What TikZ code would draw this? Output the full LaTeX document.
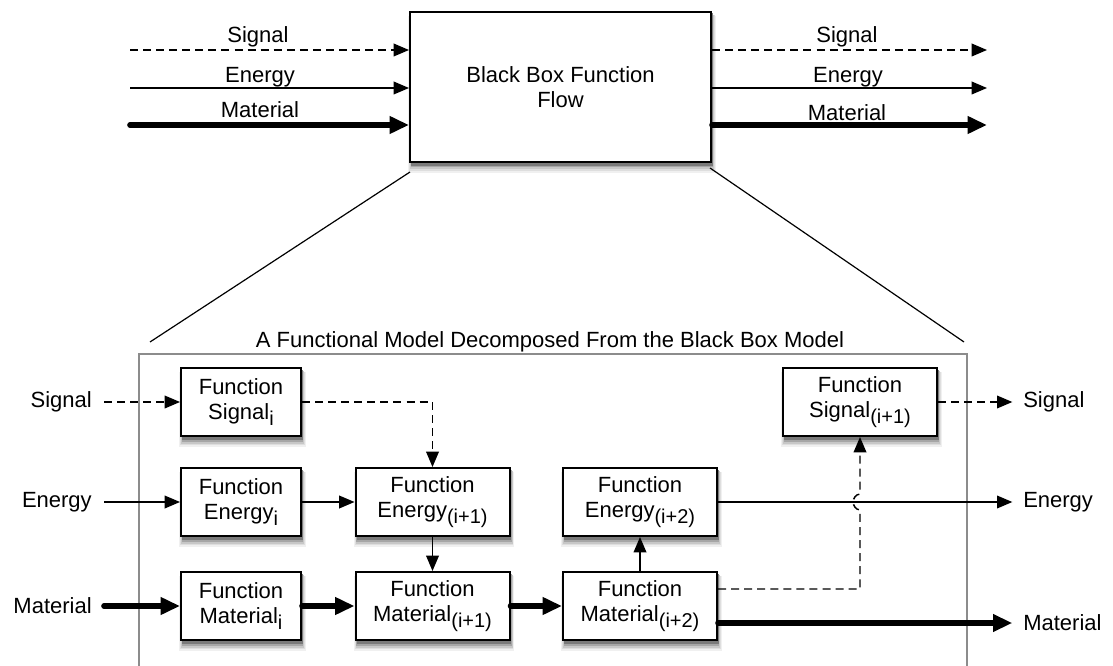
\documentclass[tikz,border=0pt]{standalone}
\usepackage{fontspec}
\setmainfont{Liberation Sans}
\usetikzlibrary{arrows.meta,calc}

% lowered, slightly smaller index after a flow name
\newcommand{\fsub}[1]{\raisebox{-5pt}{\fontsize{15}{15}\selectfont #1}}
% soft drop shadow of the box with edges x1,y1,x2,y2 (picture units), stacked grey rectangles
\newcommand{\shadowbox}[4]{%
  \fill[black!6]  (#1-2,#4+11)   rectangle (#3+4.5,#2+4);
  \fill[black!13] (#1-1,#4+9)    rectangle (#3+3.6,#2+3.5);
  \fill[black!22] (#1,#4+7.5)    rectangle (#3+3,#2+3);
  \fill[black!35] (#1+0.5,#4+5.5) rectangle (#3+2.4,#2+2);
  \fill[black!52] (#1+1,#4+4)    rectangle (#3+1.9,#2+1.5);}

\begin{document}
\begin{tikzpicture}[x=0.75pt,y=-0.75pt,
  every node/.style={font=\fontsize{16.5}{18.75}\selectfont},
  fbox/.style={draw, line width=1.5pt, fill=white, align=center, inner sep=0pt,
    minimum height=51pt},
  narrowbox/.style={fbox, minimum width=90pt},
  widebox/.style={fbox, minimum width=115.5pt},
  thinarr/.style={line width=1.1pt, -{Triangle[length=11.5pt,width=9.5pt]}},
  sigarr/.style={thinarr, dash pattern=on 6pt off 3.8pt},
  thickarr/.style={line width=4.2pt, line cap=round, -{Triangle[length=14.5pt,width=12.5pt]}},
  frameline/.style={draw=black!45, line width=1.1pt},
  zoomline/.style={line width=0.9pt},
]
\useasboundingbox (0,0) rectangle (1113,666);

% ---------- shadows, drawn first so the boxes sit on them ----------
\shadowbox{410}{12}{711}{162}
\shadowbox{181}{368}{301}{436}
\shadowbox{181}{468}{301}{536}
\shadowbox{181}{572}{301}{640}
\shadowbox{355.5}{468}{509.5}{536}
\shadowbox{355.5}{572}{509.5}{640}
\shadowbox{563}{468}{717}{536}
\shadowbox{563}{572}{717}{640}
\shadowbox{783}{368}{937}{436}

% ---------- black box ----------
\node[fbox, minimum width=225.75pt, minimum height=112.5pt] (bb) at (560.5,87) {Black Box Function\\Flow};

\coordinate (ls) at (130,50);
\coordinate (le) at (130,88);
\coordinate (lm) at (130,125);
\coordinate (rs) at (987,50);
\coordinate (re) at (987,88);
\coordinate (rm) at (987,125);

\draw[sigarr] (ls) -- (ls -| bb.west);
\draw[thinarr] (le) -- (le -| bb.west);
\draw[thickarr] (lm) -- (lm -| bb.west);
\draw[sigarr] (rs -| bb.east) -- (rs);
\draw[thinarr] (re -| bb.east) -- (re);
\draw[thickarr] (rm -| bb.east) -- (rm);

\node[anchor=base] (tls) at (258,43) {Signal};
\node[anchor=base] (tle) at (260,83) {Energy};
\node[anchor=base] (tlm) at (260,118) {Material};
\node[anchor=base] (trs) at (847,43) {Signal};
\node[anchor=base] (tre) at (848,83) {Energy};
\node[anchor=base] (trm) at (847,121) {Material};

% ---------- zoom lines ----------
\coordinate (zl0) at (410,172);
\coordinate (zl1) at (150,342);
\coordinate (zr0) at (710,168);
\coordinate (zr1) at (964,342);
\draw[zoomline] (zl0) -- (zl1);
\draw[zoomline] (zr0) -- (zr1);

\node[anchor=base] (title) at (550,348) {A Functional Model Decomposed From the Black Box Model};
\draw[frameline] (139,666) -- (139,354) -- (967,354) -- (967,666);

% ---------- functional model ----------
\node[narrowbox] (si)  at (241,402)   {Function\\Signal\fsub{i}};
\node[narrowbox] (ei)  at (241,502)   {Function\\Energy\fsub{i}};
\node[narrowbox] (mi)  at (241,606)   {Function\\Material\fsub{i}};
\node[widebox]   (ei1) at (432.5,502) {Function\\Energy\fsub{(i+1)}};
\node[widebox]   (mi1) at (432.5,606) {Function\\Material\fsub{(i+1)}};
\node[widebox]   (ei2) at (640,502)   {Function\\Energy\fsub{(i+2)}};
\node[widebox]   (mi2) at (640,606)   {Function\\Material\fsub{(i+2)}};
\node[widebox]   (si1) at (860,402)   {Function\\Signal\fsub{(i+1)}};

\node[anchor=east, inner sep=0pt] (ins) at (92,402) {Signal};
\node[anchor=east, inner sep=0pt] (ine) at (92,502) {Energy};
\node[anchor=east, inner sep=0pt] (inm) at (92,606) {Material};
\node[anchor=west, inner sep=0pt] (outs) at (1023,402) {Signal};
\node[anchor=west, inner sep=0pt] (oute) at (1023,502) {Energy};
\node[anchor=west, inner sep=0pt] (outm) at (1023,623) {Material};

\draw[sigarr, shorten <=9pt] (ins) -- (si);
\draw[thinarr, shorten <=9pt] (ine) -- (ei);
\draw[thickarr, shorten <=9pt] (inm) -- (mi);

\draw[sigarr] (si.east) -| (ei1.north);
\draw[thinarr] (ei) -- (ei1);
\draw[thinarr] (ei1) -- (mi1);
\draw[thickarr] (mi) -- (mi1);
\draw[thickarr] (mi1) -- (mi2);
\draw[thinarr] (mi2) -- (ei2);

\draw[thinarr, shorten >=8pt] (ei2) -- (oute);
\draw[sigarr, shorten >=8pt] (si1) -- (outs);
\draw[thickarr, shorten >=8pt] ($(mi2.east)+(0,17)$) -- (outm);

% dashed link hopping over the energy line
\coordinate (hb) at (860,510);
\coordinate (ht) at (860,494);
\draw[sigarr] ($(mi2.east)+(0,-17)$) -| (hb)
  .. controls ($(hb)+(-9,-1)$) and ($(ht)+(-9,1)$) .. (ht) -- (si1.south);
\end{tikzpicture}
\end{document}
